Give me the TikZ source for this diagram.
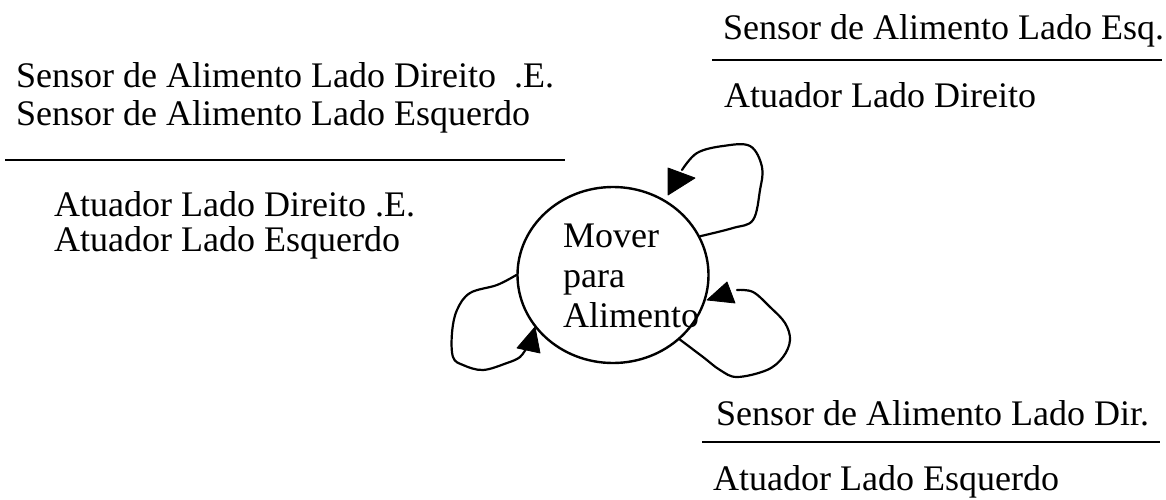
\documentclass[tikz,border=0pt]{standalone}
\usepackage{fontspec}
\setmainfont{Liberation Serif}
\usetikzlibrary{shapes.geometric}
\begin{document}
\begin{tikzpicture}[x=1pt,y=-1pt,
  txt/.style={anchor=base west, inner sep=0pt, font=\fontsize{36}{43}\selectfont},
  rulestyle/.style={line width=2.2pt},
  loopline/.style={line width=2.2pt, line join=round, line cap=round},
  head/.style={fill=black, draw=black, line width=0.8pt, line join=round},
  state/.style={draw, ellipse, line width=2.4pt, minimum width=191pt, minimum height=176pt, inner sep=0pt}]
\useasboundingbox (0,0) rectangle (1166,500);

% central state
\node[state] (mover) at (613,275) {};
\node[txt] (t1) at (563,247) {Mover};
\node[txt] (t2) at (563,287) {para};
\node[txt] (t3) at (563,327) {Alimento};

% left label
\node[txt] (l1) at (16,88) {Sensor de Alimento Lado Direito\ \ .E.};
\node[txt] (l2) at (16,125) {Sensor de Alimento Lado Esquerdo};
\draw[rulestyle] (5,160) -- (565,160);
\node[txt] (l3) at (54,216) {Atuador Lado Direito .E.};
\node[txt] (l4) at (54,251) {Atuador Lado Esquerdo};

% top right label
\node[txt] (r1) at (723,40) {Sensor de Alimento Lado Esq.};
\draw[rulestyle] (712,60) -- (1162,60);
\node[txt] (r2) at (724,107) {Atuador Lado Direito};

% bottom right label
\node[txt] (b1) at (716,425) {Sensor de Alimento Lado Dir.};
\draw[rulestyle] (702,442) -- (1160,442);
\node[txt] (b2) at (713,490) {Atuador Lado Esquerdo};

% top-right loop
\coordinate (e1) at (682,170);
\draw[loopline] plot[smooth, tension=0.6] coordinates {(mover.24) (733,228) (753,220) (760,190) (762,167) (750,146) (723,146) (697,153) (e1)};
\fill[head] (668,168) -- (668,195) -- (695,178) -- cycle;

% bottom-right loop
\coordinate (e2) at (737,290);
\draw[loopline] plot[smooth, tension=0.6] coordinates {(mover.-44) (703,357) (720,370) (737,377) (767,370) (783,357) (790,340) (785,323) (770,307) (753,292) (e2)};
\fill[head] (707,300) -- (727,282) -- (735,303) -- cycle;

% bottom-left loop
\coordinate (e3) at (527,347);
\draw[loopline] plot[smooth, tension=0.6] coordinates {(mover.180) (497,285) (470,293) (457,310) (452,333) (453,357) (463,365) (483,370) (507,363) (520,357) (e3)};
\fill[head] (535,327) -- (517,348) -- (540,353) -- cycle;
\end{tikzpicture}
\end{document}
